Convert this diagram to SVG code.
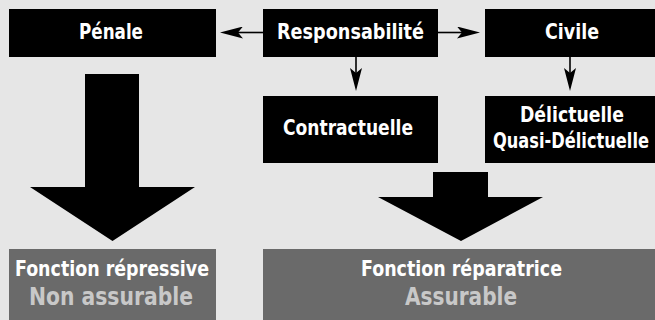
<svg xmlns="http://www.w3.org/2000/svg" width="655" height="320" viewBox="0 0 655 320">
  <style>
    .box { fill: #000000; }
    .gbox { fill: #6a6a6a; }
    .lbl { font-family: "DejaVu Sans", "Liberation Sans", sans-serif; font-weight: bold; font-stretch: condensed; fill: #ffffff; text-anchor: middle; }
    .t21 { font-size: 21.5px; }
    .t20 { font-size: 20.5px; }
    .t24 { font-size: 24px; fill: #c8c8c8; }
    .conn { stroke: #000000; stroke-width: 1.6; fill: none; marker-end: url(#ah); }
    .big { fill: #000000; }
  </style>
  <defs>
    <marker id="ah" viewBox="0 0 23 12" refX="5" refY="6" markerWidth="23" markerHeight="12" markerUnits="userSpaceOnUse" orient="auto">
      <path d="M0,0 L23,6 L0,12 L5,6 Z" fill="#000000"/>
    </marker>
  </defs>
  <rect x="0" y="0" width="655" height="320" fill="#e6e6e6"/>

  <g id="connectors">
    <line class="conn" x1="263" y1="32.5" x2="238" y2="32.5"/>
    <line class="conn" x1="438" y1="32.5" x2="462" y2="32.5"/>
    <line class="conn" x1="356" y1="57" x2="356" y2="73"/>
    <line class="conn" x1="570" y1="57" x2="570" y2="73"/>
    <polygon class="big" points="85,74 139,74 139,187 195,187 112.5,241 30,187 85,187"/>
    <polygon class="big" points="433,172 488,172 488,197 543,197 461,241 378,197 433,197"/>
  </g>

  <g id="penale">
    <rect class="box" x="9" y="9" width="207" height="48"/>
    <text class="lbl t21" x="111" y="38.5" textLength="64" lengthAdjust="spacingAndGlyphs">Pénale</text>
  </g>
  <g id="responsabilite">
    <rect class="box" x="263" y="9" width="175" height="48"/>
    <text class="lbl t21" x="350.5" y="38.5" textLength="147" lengthAdjust="spacingAndGlyphs">Responsabilité</text>
  </g>
  <g id="civile">
    <rect class="box" x="485" y="9" width="170" height="48"/>
    <text class="lbl t21" x="572" y="38.5" textLength="54" lengthAdjust="spacingAndGlyphs">Civile</text>
  </g>
  <g id="contractuelle">
    <rect class="box" x="263" y="96" width="175" height="67"/>
    <text class="lbl t21" x="348" y="135" textLength="130" lengthAdjust="spacingAndGlyphs">Contractuelle</text>
  </g>
  <g id="delictuelle">
    <rect class="box" x="485" y="96" width="170" height="67"/>
    <text class="lbl t21" x="572" y="122" textLength="104" lengthAdjust="spacingAndGlyphs">Délictuelle</text>
    <text class="lbl t21" x="571" y="148" textLength="156" lengthAdjust="spacingAndGlyphs">Quasi-Délictuelle</text>
  </g>
  <g id="fonction-repressive">
    <rect class="gbox" x="9" y="249" width="207" height="71"/>
    <text class="lbl t20" x="112" y="276" textLength="194" lengthAdjust="spacingAndGlyphs">Fonction répressive</text>
    <text class="lbl t24" x="111" y="304.5" textLength="164" lengthAdjust="spacingAndGlyphs">Non assurable</text>
  </g>
  <g id="fonction-reparatrice">
    <rect class="gbox" x="263" y="249" width="392" height="71"/>
    <text class="lbl t20" x="461.5" y="276" textLength="201" lengthAdjust="spacingAndGlyphs">Fonction réparatrice</text>
    <text class="lbl t24" x="461" y="304.5" textLength="112" lengthAdjust="spacingAndGlyphs">Assurable</text>
  </g>
</svg>
